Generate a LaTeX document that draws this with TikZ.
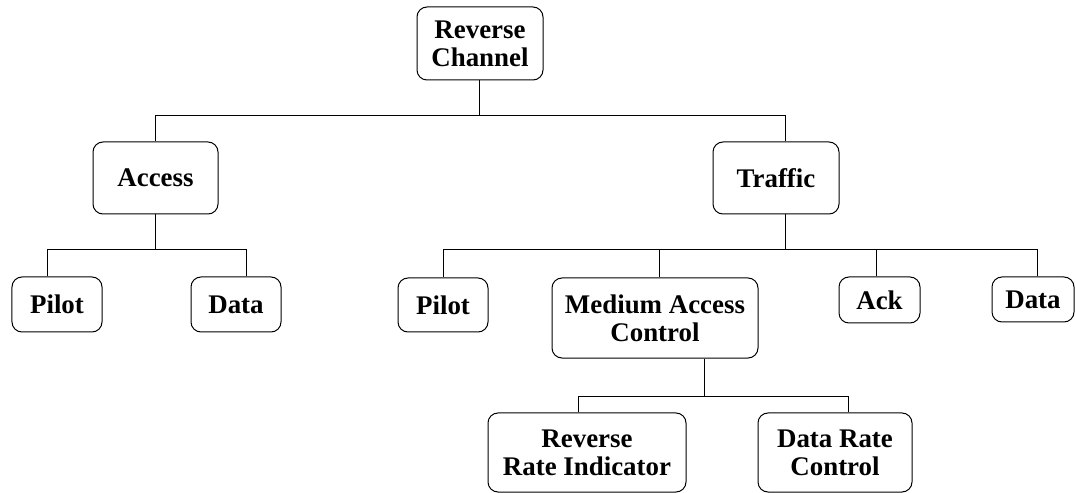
\documentclass[tikz,border=0pt]{standalone}
\usepackage{fontspec}
\setmainfont{Liberation Serif}
\begin{document}
\begin{tikzpicture}[x=1bp,y=-1bp]
	\useasboundingbox (0,0) rectangle (1075,493);
	\tikzstyle{box}=[draw=black, line width=1bp, rounded corners=10bp, align=center, inner sep=0pt, font=\bfseries\fontsize{27}{28}\selectfont]
	\node[box, minimum width=126bp, minimum height=73bp] 	(RC) at (480,43.5) {Reverse\\Channel};
	\node[box, minimum width=125bp, minimum height=72bp] 	(Access) at (155.5,178) {Access};
	\node[box, minimum width=126bp, minimum height=72bp] 	(Traffic) at (776,178) {Traffic};
	\node[box, minimum width=90bp, minimum height=55bp] 	(PilotA) at (57,304.5) {Pilot};
	\node[box, minimum width=90bp, minimum height=55bp] 	(DataA) at (236,304.5) {Data};
	\node[box, minimum width=90bp, minimum height=54bp] 	(PilotT) at (443,305) {Pilot};
	\node[box, minimum width=206bp, minimum height=80bp] 	(MAC) at (655,318) {Medium Access\\Control};
	\node[box, minimum width=81bp, minimum height=46bp] 	(Ack) at (879.5,300) {Ack};
	\node[box, minimum width=82bp, minimum height=45bp] 	(DataT) at (1033,299.5) {Data};
	\node[box, minimum width=198bp, minimum height=79bp] 	(RRI) at (587,452.5) {Reverse\\Rate Indicator};
	\node[box, minimum width=154bp, minimum height=79bp] 	(DRC) at (835,452.5) {Data Rate\\Control};

	\coordinate (rcbus) at (479,116);
	\coordinate (acbus) at (155,250);
	\coordinate (trbus) at (785,250);
	\coordinate (macbus) at (704,396);

	\begin{scope}[line width=1bp, black]
		\draw	(RC.south -| rcbus) -- (rcbus);
		\draw	(rcbus) -| (Access.north);
		\draw	(rcbus) -| ([xshift=9bp]Traffic.north);
		\draw	(Access.south -| acbus) -- (acbus);
		\draw	(acbus) -| ([xshift=-10bp]PilotA.north);
		\draw	(acbus) -| ([xshift=10bp]DataA.north);
		\draw	(Traffic.south -| trbus) -- (trbus);
		\draw	(trbus) -| (PilotT.north);
		\draw	(trbus) -| ([xshift=4bp]MAC.north);
		\draw	(trbus) -| ([xshift=-3.5bp]Ack.north);
		\draw	(trbus) -| ([xshift=4bp]DataT.north);
		\draw	(MAC.south -| macbus) -- (macbus);
		\draw	(macbus) -| ([xshift=-9bp]RRI.north);
		\draw	(macbus) -| ([xshift=13bp]DRC.north);
	\end{scope}
\end{tikzpicture}
\end{document}
